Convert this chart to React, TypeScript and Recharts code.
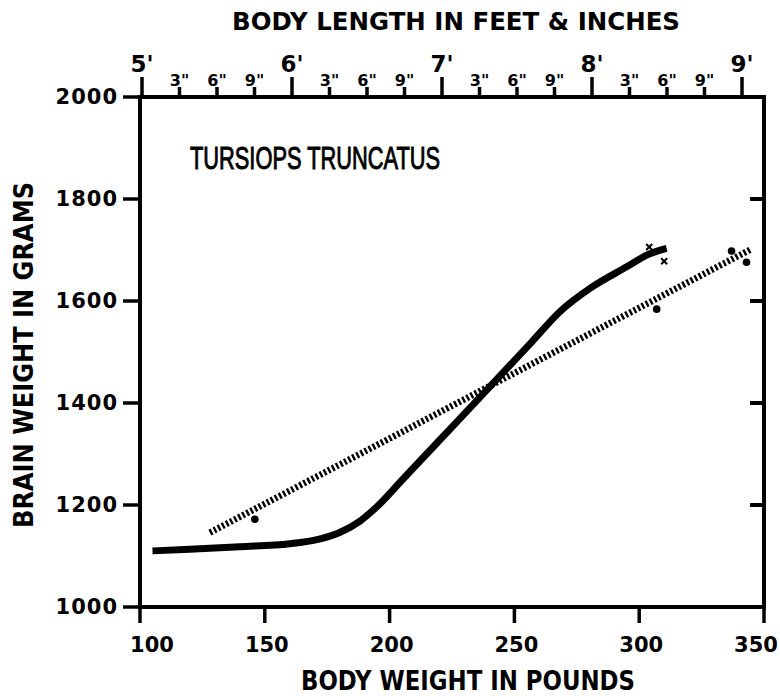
import React from "react";
import { ComposedChart, Line, Scatter, XAxis, YAxis, Customized } from "recharts";

// Body weight (lb) and brain weight (g) along the solid curve
const curveWeights = [105, 120, 140, 160, 170, 180, 188, 195, 205, 220, 240, 257, 268, 281, 295, 304, 311];
const curveBrain = [1110, 1113, 1118, 1124, 1131, 1146, 1168, 1197, 1249, 1327, 1431, 1520, 1578, 1627, 1667, 1692, 1703];

// Dotted regression line end points
const lineWeights = [128, 345];
const lineBrain = [1146, 1702];

// Individual specimens (dots)
const dotWeights = [146, 307, 337, 343];
const dotBrain = [1172, 1584, 1698, 1676];

// Individual specimens (x marks)
const crossWeights = [304, 310];
const crossBrain = [1706, 1678];

const weightTicks = [100, 150, 200, 250, 300, 350];
const brainTicks = [1000, 1200, 1400, 1600, 1800, 2000];
const innerBrainTicks = [1200, 1400, 1600, 1800];
// body length in inches (5' .. 9', every 3")
const lengthTicks = [60, 63, 66, 69, 72, 75, 78, 81, 84, 87, 90, 93, 96, 99, 102, 105, 108];

const curveData = curveWeights.map((w, i) => ({ w, g: curveBrain[i] }));
const lineData = lineWeights.map((w, i) => ({ w, g: lineBrain[i] }));
const dotData = dotWeights.map((w, i) => ({ w, g: dotBrain[i] }));
const crossData = crossWeights.map((w, i) => ({ w, g: crossBrain[i] }));
const lengthData = lengthTicks.map((len) => ({ len, g: 1000 }));

const FONT = "DejaVu Sans";
const W_DOMAIN: [number, number] = [100, 350];
const G_DOMAIN: [number, number] = [1000, 2000];
const LEN_DOMAIN: [number, number] = [59.84, 109.76];

// chart layout
const CHART_W = 780;
const CHART_H = 696;
const MARGIN = { top: 0, right: 15, bottom: 0, left: 0 };
const Y_LEFT_W = 140;
const Y_RIGHT_W = 1;
const X_TOP_H = 97;
const X_BOTTOM_H = 89;
const PLOT_LEFT = MARGIN.left + Y_LEFT_W;
const PLOT_RIGHT = CHART_W - MARGIN.right - Y_RIGHT_W;
const PLOT_TOP = MARGIN.top + X_TOP_H;
const PLOT_BOTTOM = CHART_H - MARGIN.bottom - X_BOTTOM_H;

// same linear scales as the top length axis and the brain-weight axis
const scaleLen = (len: number) =>
  PLOT_LEFT + ((len - LEN_DOMAIN[0]) / (LEN_DOMAIN[1] - LEN_DOMAIN[0])) * (PLOT_RIGHT - PLOT_LEFT);
const scaleG = (g: number) =>
  PLOT_BOTTOM - ((g - G_DOMAIN[0]) / (G_DOMAIN[1] - G_DOMAIN[0])) * (PLOT_BOTTOM - PLOT_TOP);

const TopTick = (props: any) => {
  const { x, y, payload } = props;
  const v = payload.value;
  const isFoot = v % 12 === 0;
  const label = isFoot ? `${v / 12}'` : `${v % 12}"`;
  return (
    <text
      x={x}
      y={isFoot ? y - 25 : y - 11}
      textAnchor="middle"
      fontSize={isFoot ? 23 : 16}
      fontWeight="bold"
      fontFamily={FONT}
      fill="#000"
    >
      {label}
    </text>
  );
};

const BottomTick = (props: any) => {
  const { x, y, payload, index } = props;
  const last = weightTicks.length - 1;
  const dx = index === 0 ? 12 : index === last ? -8 : 2;
  return (
    <text
      x={x + dx}
      y={y}
      dy="0.71em"
      textAnchor="middle"
      fontSize={21}
      fontWeight="bold"
      fontFamily={FONT}
      fill="#000"
    >
      {payload.value}
    </text>
  );
};

const Cross = (props: any) => {
  const { cx, cy } = props;
  const s = 3;
  return (
    <g stroke="#000" strokeWidth={2}>
      <line x1={cx - s} x2={cx + s} y1={cy - s} y2={cy + s} />
      <line x1={cx - s} x2={cx + s} y1={cy + s} y2={cy - s} />
    </g>
  );
};

const Dot = (props: any) => {
  const { cx, cy } = props;
  return <circle cx={cx} cy={cy} r={3.8} fill="#000" />;
};

const Hidden = () => <g />;

const EdgeTicks = () => (
  <g>
    <g stroke="#000" strokeWidth={3.5}>
      {lengthTicks.map((len) => {
        const x = scaleLen(len);
        const l = len % 12 === 0 ? 20 : 10;
        return <line key={`t${len}`} x1={x} x2={x} y1={PLOT_TOP + 1} y2={PLOT_TOP - l} />;
      })}
    </g>
    <g stroke="#000" strokeWidth={4}>
      {innerBrainTicks.map((g) => {
        const y = scaleG(g);
        return <line key={`r${g}`} x1={PLOT_RIGHT - 14} x2={PLOT_RIGHT} y1={y} y2={y} />;
      })}
    </g>
  </g>
);

const Titles = () => (
  <g fontFamily={FONT} fill="#000">
    <text x={456} y={30} textAnchor="middle" fontSize={25} fontWeight="bold" textLength={448} lengthAdjust="spacingAndGlyphs">
      BODY LENGTH IN FEET &amp; INCHES
    </text>
    <text x={468} y={690} textAnchor="middle" fontSize={27} fontWeight="bold" textLength={334} lengthAdjust="spacingAndGlyphs">
      BODY WEIGHT IN POUNDS
    </text>
    <text
      x={0}
      y={0}
      transform="translate(33,355) rotate(-90)"
      textAnchor="middle"
      fontSize={26}
      fontWeight="bold"
      textLength={346}
      lengthAdjust="spacingAndGlyphs"
    >
      BRAIN WEIGHT IN GRAMS
    </text>
    <text
      x={190}
      y={169}
      fontSize={32}
      fontFamily="Liberation Sans Narrow, Liberation Sans"
      textLength={250}
      lengthAdjust="spacingAndGlyphs"
      stroke="#000"
      strokeWidth={1}
    >
      TURSIOPS  TRUNCATUS
    </text>
  </g>
);

export default function App() {
  return (
    <div style={{ position: "absolute", left: 0, top: 0, width: CHART_W, height: CHART_H, background: "#fff" }}>
      <ComposedChart width={CHART_W} height={CHART_H} margin={MARGIN}>
        <XAxis
          xAxisId="bottom"
          dataKey="w"
          type="number"
          domain={W_DOMAIN}
          ticks={weightTicks}
          orientation="bottom"
          height={X_BOTTOM_H}
          axisLine={{ stroke: "#000", strokeWidth: 4, strokeLinecap: "square" }}
          tickLine={{ stroke: "#000", strokeWidth: 3.5 }}
          tickSize={16}
          tickMargin={14}
          tick={<BottomTick />}
          interval={0}
        />
        <XAxis
          xAxisId="top"
          dataKey="len"
          type="number"
          domain={LEN_DOMAIN}
          ticks={lengthTicks}
          orientation="top"
          height={X_TOP_H}
          axisLine={{ stroke: "#000", strokeWidth: 4, strokeLinecap: "square" }}
          tickLine={{ stroke: "#000", strokeWidth: 3 }}
          tickSize={0}
          tickMargin={0}
          tick={<TopTick />}
          interval={0}
        />
        <YAxis
          yAxisId="left"
          type="number"
          domain={G_DOMAIN}
          ticks={brainTicks}
          orientation="left"
          width={Y_LEFT_W}
          axisLine={{ stroke: "#000", strokeWidth: 4, strokeLinecap: "square" }}
          tickLine={{ stroke: "#000", strokeWidth: 3.5 }}
          tickSize={17}
          tickMargin={5}
          tick={{ fill: "#000", fontSize: 21, fontWeight: "bold", fontFamily: FONT, letterSpacing: 1 }}
          interval={0}
        />
        <YAxis
          yAxisId="right"
          type="number"
          domain={G_DOMAIN}
          ticks={brainTicks}
          orientation="right"
          width={Y_RIGHT_W}
          axisLine={{ stroke: "#000", strokeWidth: 4, strokeLinecap: "square" }}
          tickLine={false}
          tick={false}
        />
        <Scatter xAxisId="top" yAxisId="right" data={lengthData} dataKey="g" shape={<Hidden />} isAnimationActive={false} />
        <Line
          xAxisId="bottom"
          yAxisId="left"
          data={lineData}
          dataKey="g"
          type="linear"
          stroke="#000"
          strokeWidth={6.5}
          strokeDasharray="2.4 2.2"
          dot={false}
          activeDot={false}
          isAnimationActive={false}
        />
        <Line
          xAxisId="bottom"
          yAxisId="left"
          data={curveData}
          dataKey="g"
          type="monotone"
          stroke="#000"
          strokeWidth={7}
          strokeLinecap="butt"
          dot={false}
          activeDot={false}
          isAnimationActive={false}
        />
        <Scatter xAxisId="bottom" yAxisId="left" data={dotData} dataKey="g" shape={<Dot />} isAnimationActive={false} />
        <Scatter xAxisId="bottom" yAxisId="left" data={crossData} dataKey="g" shape={<Cross />} isAnimationActive={false} />
        <Customized component={EdgeTicks} />
        <Customized component={Titles} />
      </ComposedChart>
    </div>
  );
}
